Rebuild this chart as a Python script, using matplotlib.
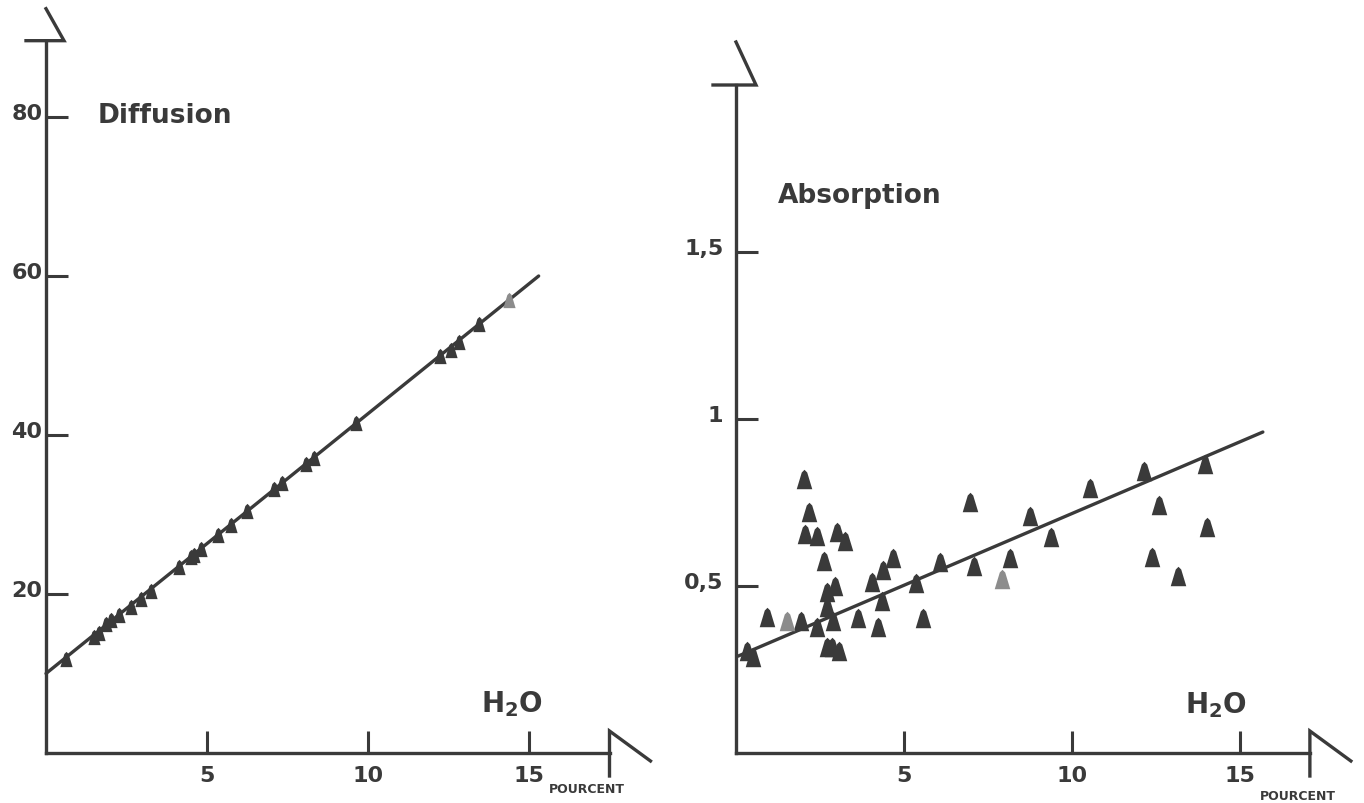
import matplotlib
matplotlib.use("Agg")
import matplotlib.pyplot as plt
from matplotlib.transforms import ScaledTranslation
import numpy as np

# ---------------------------------------------------------------------------- #
#                                     Data                                     #
# ---------------------------------------------------------------------------- #

# Diffusion vs H2O (pourcent)
diff_x = [0.62, 1.49, 1.65, 1.86, 2.02, 2.27, 2.64, 2.95, 3.26, 4.13, 4.50, 4.60,
          4.81, 5.34, 5.75, 6.24, 7.08, 7.33, 8.07, 8.32, 9.63, 12.24, 12.58,
          12.83, 13.45]
diff_y = [11.8, 14.6, 15.1, 16.2, 16.7, 17.3, 18.4, 19.4, 20.4, 23.4, 24.6, 24.9,
          25.6, 27.4, 28.7, 30.4, 33.2, 34.0, 36.3, 37.1, 41.5, 50.0, 50.7,
          51.7, 53.9]
diff_x_open = [14.38]										# lighter marker
diff_y_open = [57.0]
diff_fit = (0.0, 15.3), (10.0, 60.0)						# regression line ends

# Absorption vs H2O (pourcent)
abs_x = [0.33, 0.51, 0.92, 1.93, 2.02, 2.17, 2.05, 2.41, 2.41, 2.62, 2.71, 2.71,
         2.71, 2.86, 2.89, 2.95, 3.01, 3.07, 3.24, 3.63, 4.05, 4.23, 4.35, 4.38,
         4.67, 5.36, 5.57, 6.07, 6.96, 7.08, 8.15, 8.75, 9.38, 10.54, 12.14,
         12.38, 12.59, 13.15, 13.96, 14.02]
abs_y = [0.305, 0.287, 0.407, 0.395, 0.820, 0.722, 0.656, 0.650, 0.377, 0.575,
         0.482, 0.437, 0.317, 0.317, 0.395, 0.500, 0.662, 0.305, 0.635, 0.404,
         0.512, 0.377, 0.455, 0.548, 0.584, 0.509, 0.404, 0.572, 0.751, 0.560,
         0.584, 0.710, 0.647, 0.793, 0.844, 0.587, 0.743, 0.530, 0.865, 0.677]
abs_x_open = [1.52, 7.92]
abs_y_open = [0.395, 0.521]
abs_fit = (0.06, 15.68), (0.29, 0.961)

diff_yticks = [20, 40, 60, 80]
diff_ylabels = ["20", "40", "60", "80"]
abs_yticks = [0.5, 1.0, 1.5]
abs_ylabels = ["0,5", "1", "1,5"]
xticks = [5, 10, 15]
xlabels = ["5", "10", "15"]

# ---------------------------------------------------------------------------- #
#                                    Layout                                    #
# ---------------------------------------------------------------------------- #

W, H = 1364, 804
INK = "#3a3a3a"
GREY = "#8c8c8c"
plt.rcParams["font.family"] = ["DejaVu Sans"]
plt.rcParams["font.weight"] = "bold"

fig = plt.figure(figsize=(W/100, H/100), dpi=100)
fig.patch.set_facecolor("white")

# narrow, slightly rounded triangle marker
TRI = [(-0.4, -0.5), (0.4, -0.5), (0.14, 0.36), (0.0, 0.5), (-0.14, 0.36), (-0.4, -0.5)]


def make_axes(x0, y0, sx, sy, xlim, ylim):
	"""Axes placed so that data (0,0) is at pixel (x0, y0) with sx, sy px/unit."""
	left = x0 + sx*xlim[0]
	right = x0 + sx*xlim[1]
	top = y0 - sy*ylim[1]
	bottom = y0 - sy*ylim[0]
	ax = fig.add_axes([left/W, 1 - bottom/H, (right-left)/W, (bottom-top)/H])
	ax.set_xlim(*xlim)
	ax.set_ylim(*ylim)
	ax.patch.set_alpha(0)
	return ax


def style_axes(ax, xend, ytop, yticks, ylabels, sx, sy, ypad, brk, pc_dy):
	for s in ("top", "right"):
		ax.spines[s].set_visible(False)
	for s in ("left", "bottom"):
		ax.spines[s].set_color(INK)
		ax.spines[s].set_linewidth(2.4)
		ax.spines[s].set_position(("data", 0))
	ax.spines["left"].set_bounds(0, ytop)
	ax.spines["bottom"].set_bounds(0, xend)

	ax.set_xticks(xticks, xlabels)
	ax.set_yticks(yticks, ylabels)
	ax.set_xticks(xticks, minor=True)						# short outer stubs
	ax.set_yticks(yticks, minor=True)
	ax.tick_params(axis="both", which="major", direction="in", length=16, width=2.2,
		color=INK, labelcolor=INK, labelsize=16)
	ax.tick_params(axis="both", which="minor", direction="out", length=6, width=2.2,
		color=INK, labelleft=False, labelbottom=False)
	ax.tick_params(axis="y", which="major", pad=ypad)
	ax.tick_params(axis="x", which="major", pad=9)
	for lab in ax.get_xticklabels() + ax.get_yticklabels():
		lab.set_fontweight("bold")
	for lab in ax.get_yticklabels():						# labels sit slightly high
		lab.set_transform(lab.get_transform() + ScaledTranslation(0, 4/72, fig.dpi_scale_trans))

	dx = 1/sx; dy = 1/sy
	# axis break at end of x axis
	ax.plot([xend, xend, xend + 41*dx], [-23*dy, 22*dy, -8*dy],
		color=INK, lw=2.4, clip_on=False, solid_joinstyle="miter")
	# axis break at top of y axis
	hl, hr, hh = brk
	ax.plot([-hl*dx, hr*dx, 0], [ytop, ytop, ytop + hh*dy],
		color=INK, lw=2.4, clip_on=False, solid_joinstyle="miter")

	ax.text(xticks[-1] + 20*dx, pc_dy*dy, "POURCENT", fontsize=9, color=INK,
		fontweight="bold", ha="left", va="center", clip_on=False)


# ---------------------------------------------------------------------------- #
#                                  Diffusion                                   #
# ---------------------------------------------------------------------------- #

sxL, syL = 32.2, 7.95
axL = make_axes(46, 754, sxL, syL, (-1.4, 19.0), (-6.2, 94.5))
style_axes(axL, 17.5, 89.6, diff_yticks, diff_ylabels, sxL, syL,
	ypad=2.5, brk=(20, 18, 32), pc_dy=-36)

axL.plot(diff_fit[0], diff_fit[1], color=INK, lw=2.4, solid_capstyle="round")
axL.plot(diff_x, diff_y, linestyle="none", marker=TRI, markersize=11,
	color=INK, markeredgewidth=0)
axL.plot(diff_x_open, diff_y_open, linestyle="none", marker=TRI, markersize=11,
	color=GREY, markeredgewidth=0)

axL.text(1.6, 80.2, "Diffusion", fontsize=19, color=INK, fontweight="bold",
	va="center", ha="left")
axL.text(13.5, 5.2, r"H$_\mathbf{2}$O", fontsize=20, color=INK, fontweight="bold",
	va="baseline", ha="left")

# ---------------------------------------------------------------------------- #
#                                  Absorption                                  #
# ---------------------------------------------------------------------------- #

sxR, syR = 33.6, 334.0
axR = make_axes(736, 754, sxR, syR, (-1.4, 18.5), (-0.15, 2.25))
style_axes(axR, 17.08, 2.0, abs_yticks, abs_ylabels, sxR, syR,
	ypad=9, brk=(23, 20, 43), pc_dy=-43)

axR.plot(abs_fit[0], abs_fit[1], color=INK, lw=2.4, solid_capstyle="round")
axR.plot(abs_x, abs_y, linestyle="none", marker=TRI, markersize=14,
	color=INK, markeredgewidth=0)
axR.plot(abs_x_open, abs_y_open, linestyle="none", marker=TRI, markersize=14,
	color=GREY, markeredgewidth=0)

axR.text(1.25, 1.67, "Absorption", fontsize=19, color=INK, fontweight="bold",
	va="center", ha="left")
axR.text(13.35, 0.123, r"H$_\mathbf{2}$O", fontsize=20, color=INK, fontweight="bold",
	va="baseline", ha="left")

fig.savefig("out.png", dpi=100)
